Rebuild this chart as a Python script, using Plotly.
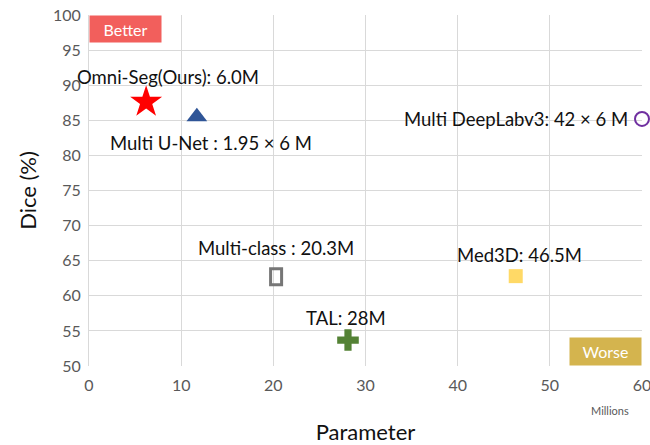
import plotly.graph_objects as go

# Data
methods = ["Omni-Seg(Ours)", "Multi U-Net", "Multi DeepLabv3", "Multi-class", "Med3D", "TAL"]
params_m = [6.2, 11.7, 60.0, 20.3, 46.3, 28.1]
dice = [87.6, 85.5, 85.2, 62.7, 62.8, 53.7]
labels = ["Omni-Seg(Ours): 6.0M", "Multi U-Net : 1.95 × 6 M", "Multi DeepLabv3: 42 × 6 M",
          "Multi-class : 20.3M", "Med3D: 46.5M", "TAL: 28M"]
x_ticks = [0, 10, 20, 30, 40, 50, 60]
y_ticks = [50, 55, 60, 65, 70, 75, 80, 85, 90, 95, 100]

FONT = "Lato"
fig = go.Figure()

styles = [
    dict(symbol="star", size=24, color="#FF0000"),
    dict(symbol="triangle-up", size=18, color="#2F5597"),
    dict(symbol="circle-open", size=14, color="#7030A0", line=dict(width=2, color="#7030A0")),
    None,
    dict(symbol="square", size=14, color="#FFD966"),
    dict(symbol="cross", size=18, color="#548235"),
]
for i, st in enumerate(styles):
    if st is None:
        continue
    fig.add_trace(go.Scatter(x=[params_m[i]], y=[dice[i]], mode="markers", cliponaxis=False,
                             marker=st, showlegend=False, name=methods[i]))

# Multi-class: tall open rectangle anchored on its data point
fig.add_shape(type="rect", xref="x", yref="y", xsizemode="pixel", ysizemode="pixel",
              xanchor=params_m[3], yanchor=dice[3], x0=-5.5, x1=5.5, y0=-8, y1=8,
              line=dict(color="#767676", width=3), fillcolor="rgba(0,0,0,0)")

# label placement (pixels): (xanchor, xshift, yshift)
offs = [("center", 22, 25), ("center", 14, -26), ("right", -12, 0),
        ("center", 0, 29), ("center", 4, 21), ("center", -2, 22)]
for i, (xa, dx, dy) in enumerate(offs):
    fig.add_annotation(x=params_m[i], y=dice[i], text=labels[i], showarrow=False,
                       xanchor=xa, xshift=dx, yshift=dy,
                       font=dict(family=FONT, size=18.5, color="#111111"))

# Better / Worse boxes
fig.add_annotation(xref="paper", yref="paper", x=0, y=1, xanchor="left", yanchor="top",
                   text="Better", showarrow=False, bgcolor="#F25F5C", width=69, height=24,
                   font=dict(family=FONT, size=16, color="white"))
fig.add_annotation(xref="paper", yref="paper", x=1, y=0, xanchor="right", yanchor="bottom",
                   text="Worse", showarrow=False, bgcolor="#D4B44E", width=69, height=25,
                   font=dict(family=FONT, size=16, color="white"))
fig.add_annotation(xref="paper", yref="paper", x=0.943, y=0, xanchor="center", yanchor="top",
                   yshift=-36, text="Millions", showarrow=False,
                   font=dict(family=FONT, size=11, color="#595959"))

fig.update_layout(
    width=650, height=445, margin=dict(l=89, r=8, t=15, b=79),
    paper_bgcolor="white", plot_bgcolor="white",
    font=dict(family=FONT, color="#595959"),
    xaxis=dict(range=[0, 60], tickvals=x_ticks, showgrid=True, gridcolor="#D9D9D9", gridwidth=1,
               zeroline=False, showline=False, tickfont=dict(size=16, color="#595959"),
               ticks="", ticklen=0, automargin=False, ticklabelstandoff=8,
               ticklabeloverflow="allow",
               title=dict(text="Parameter", font=dict(size=22, color="#111111"), standoff=38)),
    yaxis=dict(range=[50, 100], tickvals=y_ticks, showgrid=True, gridcolor="#D9D9D9", gridwidth=1,
               zeroline=False, showline=True, linecolor="#D9D9D9", tickfont=dict(size=16, color="#595959"),
               ticks="", ticklen=0, automargin=False, ticklabelstandoff=4,
               ticklabeloverflow="allow",
               title=dict(text="Dice (%)", font=dict(size=22, color="#111111"), standoff=10)),
)
fig.write_html("out.html", config={"displayModeBar": False},
               post_script="document.body.style.margin='0';document.body.style.overflow='hidden';")
